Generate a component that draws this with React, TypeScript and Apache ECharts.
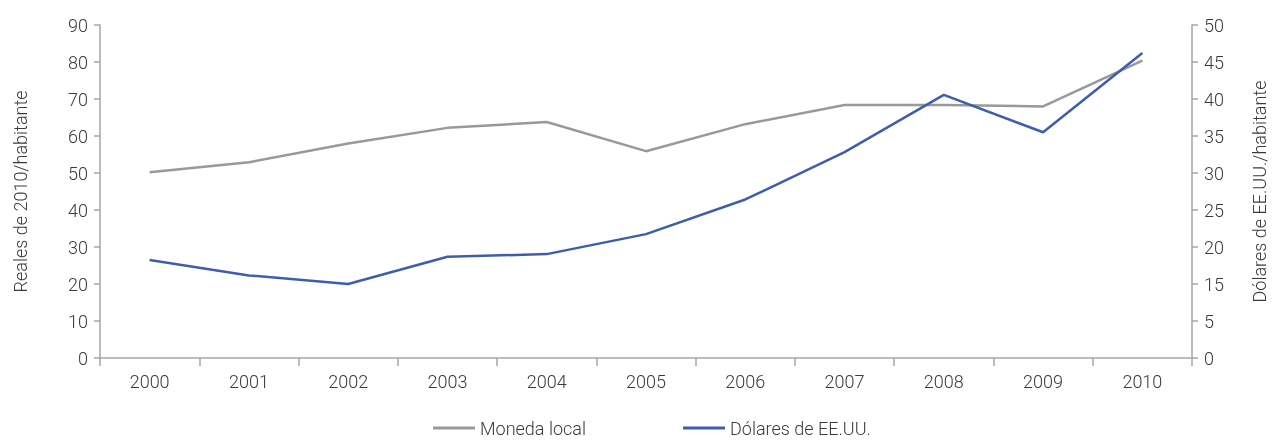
import React, { useEffect, useRef } from "react";
import * as echarts from "echarts";

const years = ["2000", "2001", "2002", "2003", "2004", "2005", "2006", "2007", "2008", "2009", "2010"];
const monedaLocal = [50.2, 52.9, 58.0, 62.2, 63.8, 55.9, 63.2, 68.4, 68.4, 68.0, 80.4];
const dolares = [14.7, 12.4, 11.1, 15.2, 15.6, 18.6, 23.8, 30.9, 39.5, 33.9, 45.8];
const rightTickLabels = ["0", "5", "15", "20", "25", "30", "35", "40", "45", "50"];
const rightMax = 50;

const FONT = "Roboto";
const WEIGHT = 300;
const TEXT = "#3a3a3a";
const AXIS = "#a6a6a6";

export default function App() {
  const ref = useRef<HTMLDivElement>(null);
  useEffect(() => {
    if (!ref.current) return;
    const chart = echarts.init(ref.current, null, { renderer: "svg" });
    const steps = rightTickLabels.length - 1;
    const rightTicks = rightTickLabels.map((_, i) => (i * rightMax) / steps);
    const txt = { fontFamily: FONT, fontSize: 18, fontWeight: WEIGHT, color: TEXT };
    chart.setOption({
      animation: false,
      textStyle: { fontFamily: FONT },
      grid: { left: 100, right: 78, top: 25, bottom: 83, containLabel: false },
      legend: {
        left: 428,
        top: 414,
        icon: "rect",
        itemWidth: 42,
        itemHeight: 3,
        itemGap: 97,
        textStyle: txt,
        data: ["Moneda local", "Dólares de EE.UU."],
      },
      xAxis: {
        type: "category",
        data: years,
        boundaryGap: true,
        axisLine: { lineStyle: { color: AXIS, width: 1.5 } },
        axisTick: { show: true, length: 8, lineStyle: { color: AXIS, width: 1.5 } },
        axisLabel: { ...txt, margin: 14 },
      },
      yAxis: [
        {
          type: "value",
          min: 0,
          max: 90,
          interval: 10,
          position: "left",
          name: "Reales de 2010/habitante",
          nameLocation: "middle",
          nameRotate: 90,
          nameGap: 71,
          nameTextStyle: txt,
          axisLine: { show: true, lineStyle: { color: AXIS, width: 1.5 } },
          axisTick: { show: true, length: 6, lineStyle: { color: AXIS, width: 1.5 } },
          axisLabel: { ...txt, margin: 12 },
          splitLine: { show: false },
        },
        {
          type: "value",
          min: 0,
          max: rightMax,
          position: "right",
          name: "Dólares de EE.UU./habitante",
          nameLocation: "middle",
          nameRotate: 90,
          nameGap: 58,
          nameTextStyle: txt,
          axisLine: { show: true, lineStyle: { color: AXIS, width: 1.5 } },
          axisTick: { show: true, length: 6, customValues: rightTicks, lineStyle: { color: AXIS, width: 1.5 } },
          axisLabel: {
            ...txt,
            margin: 12,
            customValues: rightTicks,
            formatter: (v: number) => rightTickLabels[Math.round((v * steps) / rightMax)] ?? "",
          },
          splitLine: { show: false },
        },
      ],
      series: [
        {
          name: "Moneda local",
          type: "line",
          data: monedaLocal,
          yAxisIndex: 0,
          symbol: "none",
          lineStyle: { color: "#999999", width: 2.5 },
          itemStyle: { color: "#999999" },
        },
        {
          name: "Dólares de EE.UU.",
          type: "line",
          data: dolares,
          yAxisIndex: 1,
          symbol: "none",
          lineStyle: { color: "#3d5eb0", width: 2.5 },
          itemStyle: { color: "#3d5eb0" },
        },
      ],
    });
    return () => chart.dispose();
  }, []);
  return <div ref={ref} style={{ position: "fixed", left: 0, top: 0, width: 1276, height: 441 }} />;
}
